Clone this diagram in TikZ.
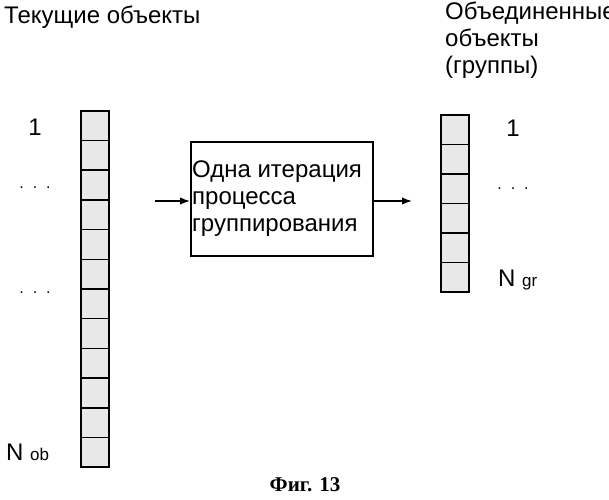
\documentclass[tikz,border=0pt]{standalone}
\usepackage{fontspec}
\setmainfont{Liberation Sans}
\newfontfamily\capfont{Liberation Serif}
\usetikzlibrary{arrows.meta}
\tikzset{cell/.style={draw,line width=1.5pt,fill=gray!18,minimum width=28pt,minimum height=29.7pt,inner sep=0pt},
lbl/.style={font=\fontsize{24}{27}\selectfont,inner sep=0pt}}
\begin{document}
\begin{tikzpicture}[x=1pt,y=-1pt]
		\useasboundingbox (0,0) rectangle (609,499);
		% left column
		\foreach \i in {1,...,12}
			\node(l\i)[cell,anchor=north west] at (80,{110+(\i-1)*29.7}) {};
		% right column
		\foreach \i in {1,...,6}
			\node(r\i)[cell,anchor=north west] at (440,{114+(\i-1)*29.5}) {};
		%%%%%%%
		\node(ttl)[lbl,anchor=north west] at (4,6) {Текущие объекты};
		\node(ttr)[lbl,anchor=north west,align=left] at (445,2) {Объединенные\\объекты\\(группы)};
		\node(n1)[lbl] at (35,127) {1};
		\node(d1)[font=\fontsize{16}{16}\selectfont] at (35,188) {.\ \ .\ \ .};
		\node(d2)[font=\fontsize{16}{16}\selectfont] at (35,293) {.\ \ .\ \ .};
		\node(nob)[lbl,anchor=west] at (6,452) {N \fontsize{17}{17}\selectfont ob};
		\node(m1)[lbl] at (513,128) {1};
		\node(d3)[font=\fontsize{16}{16}\selectfont] at (513,189) {.\ \ .\ \ .};
		\node(ngr)[lbl,anchor=west] at (498,280) {N \fontsize{17}{17}\selectfont gr};
		%%%%%%%
		\node(it)[draw,line width=1.5pt,minimum width=182pt,minimum height=114pt,anchor=north west,inner sep=0pt] at (190,141) {};
		\node(txt)[lbl,align=left,anchor=west] at ([xshift=2pt]it.west) {Одна итерация\\процесса\\группирования};
		\coordinate(in) at (155,201);
		\coordinate(out) at (412,201);
		\draw[-{Latex[length=10pt]},line width=1.5pt] (in) -- (in -| it.west);
		\draw[-{Latex[length=10pt]},line width=1.5pt] (out -| it.east) -- (out);
		\node(cap)[font=\capfont\bfseries\fontsize{21}{21}\selectfont] at (305,485) {Фиг. 13};
\end{tikzpicture}
\end{document}
